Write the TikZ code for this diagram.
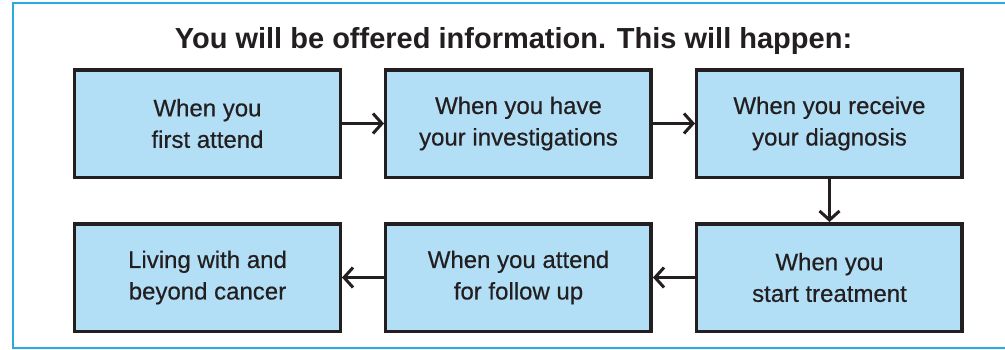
\documentclass[tikz,border=0pt]{standalone}
\usepackage{fontspec}
\setmainfont{Liberation Sans}
\newfontfamily\stagefont{Liberation Sans}[FakeBold=0.5]
\usetikzlibrary{matrix,arrows.meta}

\definecolor{stageblue}{HTML}{B3DFF6}
\definecolor{framecyan}{HTML}{29ABE2}
\definecolor{inkdark}{HTML}{231F20}

\begin{document}
\begin{tikzpicture}[x=1pt,y=-1pt,
    stagebox/.style={draw=inkdark,line width=3.5pt,fill=stageblue,text=inkdark,
      minimum width=265.5pt,minimum height=107.5pt,align=center,
      font=\stagefont\fontsize{24}{31.5}\selectfont}]
  \useasboundingbox (0,0) rectangle (1005,350);
  \draw[framecyan,line width=1.5pt] (13,3) rectangle (1012,348);
  \node (title) [anchor=base,text=inkdark,font=\bfseries\fontsize{29}{34}\selectfont]
    at (513.5,49) {You will be offered information. This will happen:};
  \matrix (m) [row sep=43pt,column sep=42pt,nodes={stagebox}] at (518.5,200.5)
  {
     \node (attend) {When you\\first attend}; \pgfmatrixnextcell
     \node (tests) {When you have\\your investigations}; \pgfmatrixnextcell
     \node (diagnosis) {When you receive\\your diagnosis}; \\
     \node (living) {Living with and\\beyond cancer}; \pgfmatrixnextcell
     \node (followup) {When you attend\\for follow up}; \pgfmatrixnextcell
     \node (treatment) {When you\\start treatment}; \\};
  \path[draw=inkdark,line width=3pt,-{Straight Barb[length=9pt,width=20pt]}]
    (attend) edge (tests)
    (tests) edge (diagnosis)
    (diagnosis) edge (treatment)
    (treatment) edge (followup)
    (followup) edge (living);
\end{tikzpicture}
\end{document}
